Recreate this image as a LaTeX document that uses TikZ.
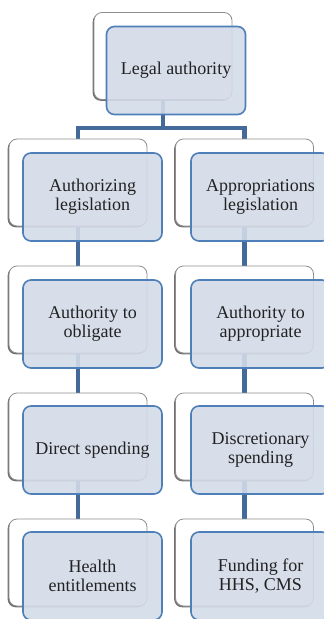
\documentclass[tikz,border=0pt]{standalone}
\usepackage{fontspec}
\setmainfont{Liberation Serif}
\newfontfamily\cardfont{Liberation Serif}
\usetikzlibrary{shadows}
\definecolor{boxedge}{HTML}{4F7FB8}
\definecolor{boxfill}{HTML}{D3DBE8}
\definecolor{linkblue}{HTML}{44699B}
\definecolor{backedge}{HTML}{8E8E8E}
\definecolor{shadowgray}{HTML}{707070}
\definecolor{labeltext}{HTML}{222222}
\pgfdeclarelayer{links}
\pgfsetlayers{links,main}
\begin{document}
\begin{tikzpicture}[x=1pt,y=-1pt,
  backbox/.style={draw=backedge, line width=0.8pt, fill=white, rounded corners=8pt,
    minimum width=138pt, minimum height=87pt, inner sep=0pt,
    drop shadow={shadow xshift=-1.3pt, shadow yshift=-1.3pt, fill=shadowgray, opacity=1}},
  frontbox/.style={draw=boxedge, line width=1.6pt, fill=boxfill, fill opacity=0.9,
    text opacity=1, rounded corners=8pt, minimum width=139pt, minimum height=88pt,
    inner sep=0pt, align=center, text=labeltext,
    font=\cardfont\fontsize{18}{19}\selectfont},
  link/.style={draw=linkblue, line width=4.5pt}
]
\useasboundingbox (0,0) rectangle (324,619);
\clip (0,0) rectangle (324,619);

% back cards
\node[backbox] (tb) at (163,56) {};
\node[backbox] (lb2) at (78,182.5) {};
\node[backbox] (lb3) at (78,309.5) {};
\node[backbox] (lb4) at (78,436.5) {};
\node[backbox] (lb5) at (78,562.5) {};
\node[backbox] (rb2) at (244.5,182.5) {};
\node[backbox] (rb3) at (244.5,309.5) {};
\node[backbox] (rb4) at (244.5,436.5) {};
\node[backbox] (rb5) at (244.5,562.5) {};

% connectors behind the cards
\coordinate (bus) at (163,128);
\begin{pgfonlayer}{links}
  \draw[link] (tb.center) -- (bus);
  \draw[link] (lb2.center) |- (bus) -| (rb2.center);
  \draw[link] (lb2.center) -- (lb3.center) -- (lb4.center) -- (lb5.center);
  \draw[link] (rb2.center) -- (rb3.center) -- (rb4.center) -- (rb5.center);
\end{pgfonlayer}

% front cards with labels
\node[frontbox] (tf) at (176,70.5) {Legal authority};
\node[frontbox] (lf2) at (92.5,197) {Authorizing\\legislation};
\node[frontbox] (lf3) at (92.5,324) {Authority to\\obligate};
\node[frontbox] (lf4) at (92.5,450) {Direct spending};
\node[frontbox] (lf5) at (92.5,576) {Health\\entitlements};
\node[frontbox] (rf2) at (260.5,197) {Appropriations\\legislation};
\node[frontbox] (rf3) at (260.5,324) {Authority to\\appropriate};
\node[frontbox] (rf4) at (260.5,450) {Discretionary\\spending};
\node[frontbox] (rf5) at (260.5,576) {Funding for\\HHS, CMS};
\end{tikzpicture}
\end{document}
